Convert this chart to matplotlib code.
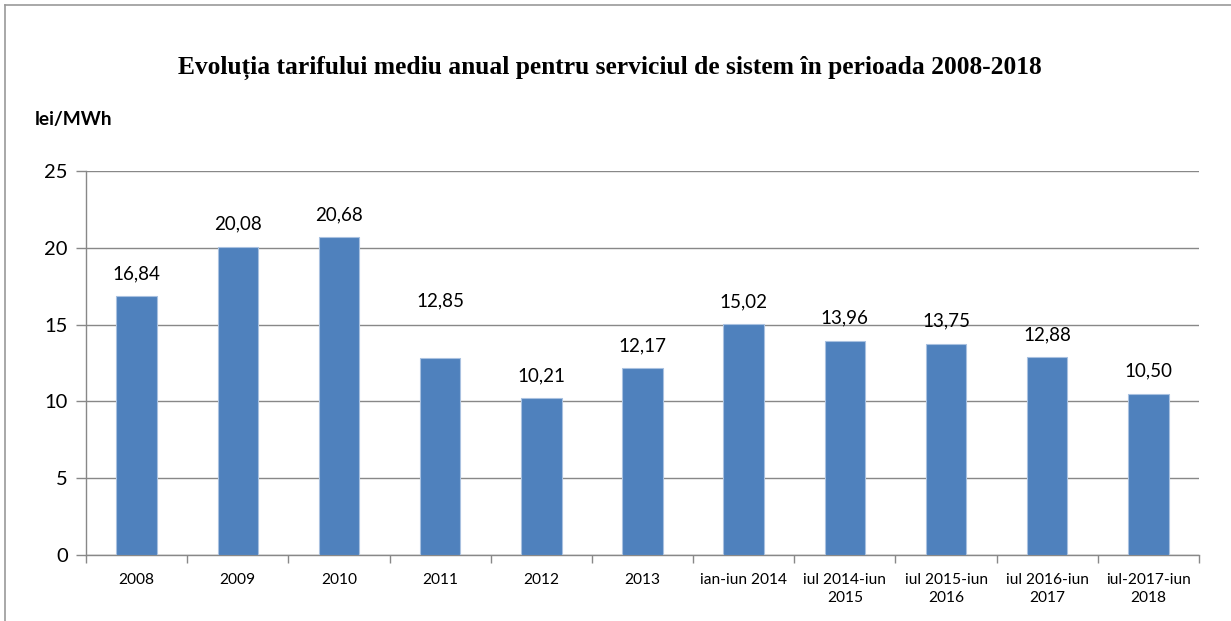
import matplotlib
matplotlib.use("Agg")
import matplotlib.pyplot as plt
from matplotlib.lines import Line2D
from matplotlib.ticker import FixedLocator, NullFormatter

# ---- data ----
categories = ["2008", "2009", "2010", "2011", "2012", "2013", "ian-iun 2014",
              "iul 2014-iun\n2015", "iul 2015-iun\n2016", "iul 2016-iun\n2017",
              "iul-2017-iun\n2018"]
values = [16.84, 20.08, 20.68, 12.85, 10.21, 12.17, 15.02, 13.96, 13.75, 12.88, 10.50]
yticks = [0, 5, 10, 15, 20, 25]
title = "Evoluția tarifului mediu anual pentru serviciul de sistem în perioada 2008-2018"
unit = "lei/MWh"

# ---- layout / style ----
W, H, DPI = 1231, 621, 100
sans = ["Lato", "DejaVu Sans"]
serif = ["Liberation Serif", "DejaVu Serif"]
bar_color = "#4F81BD"
edge_color = "#A9C1E0"
grid_color = "#888888"
label_pad_px = {i: 14 for i in range(len(values))}
label_pad_px[3] = 48  # Excel placed this label higher

fig = plt.figure(figsize=(W / DPI, H / DPI), dpi=DPI)
ax = fig.add_axes([86 / W, 1 - 555 / H, (1199 - 86) / W, (555 - 171) / H])

x = list(range(len(categories)))
ax.bar(x, values, width=0.4, color=bar_color, edgecolor=edge_color, linewidth=0.8, zorder=3)

ax.set_xlim(-0.5, len(categories) - 0.5)
ax.set_ylim(0, 25)
ax.set_yticks(yticks)
ax.set_yticklabels([str(t) for t in yticks], fontsize=14.5, family=sans)
ax.yaxis.grid(True, color=grid_color, linewidth=1.0, zorder=0)
ax.set_axisbelow(True)

ax.set_xticks(x)
ax.set_xticklabels(categories, fontsize=11.2, family=sans, linespacing=1.4)
ax.tick_params(axis="x", which="major", length=0, pad=13)
ax.xaxis.set_minor_locator(FixedLocator([i - 0.5 for i in range(len(categories) + 1)]))
ax.xaxis.set_minor_formatter(NullFormatter())
ax.tick_params(axis="x", which="minor", length=6, color=grid_color, width=1.0)
ax.tick_params(axis="y", length=7, color=grid_color, width=1.0, pad=6)

for s in ["top", "right"]:
    ax.spines[s].set_visible(False)
for s in ["left", "bottom"]:
    ax.spines[s].set_color(grid_color)
    ax.spines[s].set_linewidth(1.0)

for i, v in enumerate(values):
    ax.annotate(f"{v:.2f}".replace(".", ","), (i, v), xytext=(0, label_pad_px[i] * 72 / DPI),
                textcoords="offset points", ha="center", va="bottom",
                fontsize=13.5, family=sans, color="#000000")

fig.text(610 / W, 1 - 68 / H, title, ha="center", va="center",
         fontsize=18.4, fontweight="bold", family=serif)
fig.text(35 / W, 1 - 120 / H, unit, ha="left", va="center",
         fontsize=13.8, fontweight="bold", family=sans)

# outer border (only top and left visible in crop)
fig.add_artist(Line2D([5 / W, 5 / W], [0, 1 - 5 / H], transform=fig.transFigure, color="#999999", lw=1.2))
fig.add_artist(Line2D([5 / W, 1], [1 - 5 / H, 1 - 5 / H], transform=fig.transFigure, color="#999999", lw=1.2))

fig.savefig("out.png", dpi=DPI)
